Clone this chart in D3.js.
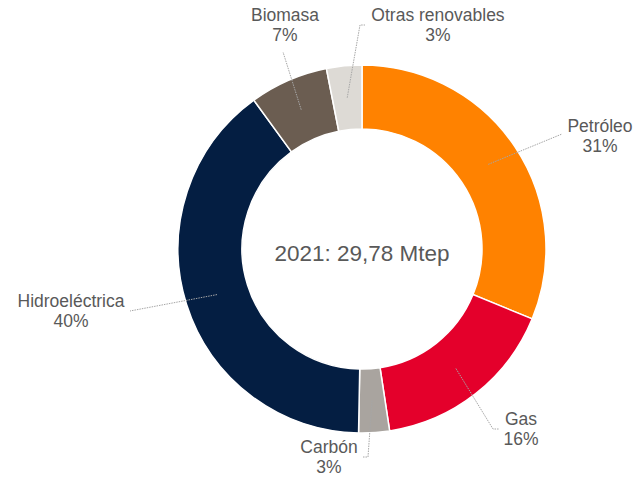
<!DOCTYPE html>
<html>
<head>
<meta charset="utf-8">
<style>
  body { margin: 0; background: #fff; }
  text { font-family: "Liberation Sans", Arial, sans-serif; fill: #595959; }
</style>
</head>
<body>
<script src="https://cdnjs.cloudflare.com/ajax/libs/d3/7.8.5/d3.min.js"></script>
<svg width="635" height="482"></svg>
<script>
var categories = ["Petróleo", "Gas", "Carbón", "Hidroeléctrica", "Biomasa", "Otras renovables"];
var shares = [31.2, 16.4, 2.7, 39.7, 6.9, 3.1];
var colors = ["#FF8200", "#E4002B", "#A9A49F", "#041E42", "#6B5D51", "#DDDAD5"];
var centerLabel = "2021: 29,78 Mtep";

// label layout: text anchor point + leader line bend points (outside end)
var labelLayout = {
    "Petróleo":         { x: 600, y: 132, pts: [[562, 134]] },
    "Gas":              { x: 521, y: 425, pts: [[493, 429], [499, 429]] },
    "Carbón":           { x: 329, y: 453, pts: [[368, 457], [363, 457]] },
    "Hidroeléctrica":   { x: 71,  y: 307, pts: [[130, 311]] },
    "Biomasa":          { x: 285, y: 21,  pts: [[283, 52]] },
    "Otras renovables": { x: 438, y: 21,  pts: [[360, 25], [365, 25]] }
};

var data = categories.map(function(c, i) { return { name: c, value: shares[i], color: colors[i] }; });

var svg = d3.select("svg");
var cx = 362, cy = 249, rOuter = 184, rInner = 120;
var g = svg.append("g").attr("transform", "translate(" + cx + "," + cy + ")");

var pie = d3.pie().value(function(d) { return d.value; }).sort(null);
var arc = d3.arc().innerRadius(rInner).outerRadius(rOuter);
var arcs = pie(data);

g.selectAll("path.slice")
    .data(arcs)
    .enter().append("path")
    .attr("class", "slice")
    .attr("d", arc)
    .style("fill", function(d) { return d.data.color; })
    .style("stroke", "#fff")
    .style("stroke-width", 1.5);

// leader lines
var line = d3.line();
svg.selectAll("path.leader")
    .data(arcs)
    .enter().append("path")
    .attr("class", "leader")
    .attr("d", function(d) {
        var c = arc.centroid(d);
        var pts = [[c[0] + cx, c[1] + cy]].concat(labelLayout[d.data.name].pts);
        return line(pts);
    })
    .style("fill", "none")
    .style("stroke", "#A6A6A6")
    .style("stroke-width", 1)
    .style("stroke-dasharray", "1.5,1");

// labels
var labels = svg.selectAll("text.lbl")
    .data(arcs)
    .enter().append("text")
    .attr("class", "lbl")
    .attr("text-anchor", "middle")
    .style("font-size", "17.5px");
labels.append("tspan")
    .attr("x", function(d) { return labelLayout[d.data.name].x; })
    .attr("y", function(d) { return labelLayout[d.data.name].y; })
    .text(function(d) { return d.data.name; });
labels.append("tspan")
    .attr("x", function(d) { return labelLayout[d.data.name].x; })
    .attr("y", function(d) { return labelLayout[d.data.name].y + 20; })
    .text(function(d) { return Math.round(d.data.value) + "%"; });

g.append("text")
    .attr("text-anchor", "middle")
    .attr("y", 12)
    .style("font-size", "22.5px")
    .text(centerLabel);
</script>
</body>
</html>
